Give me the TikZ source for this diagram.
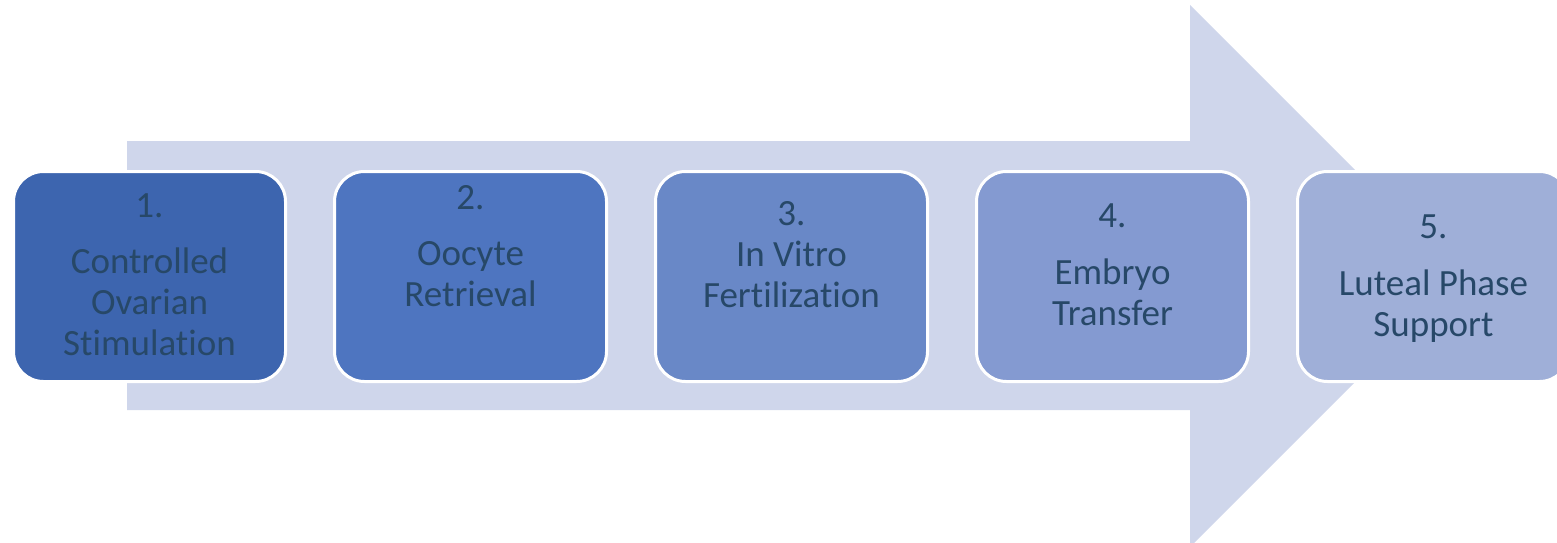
\documentclass[tikz,border=0pt]{standalone}
\usepackage{fontspec}
\setmainfont{Carlito}[Ligatures=NoCommon]
\usepackage{tikz}
\usetikzlibrary{positioning}
\definecolor{arrowfill}{RGB}{207,214,235}
\definecolor{stepA}{RGB}{61,101,175}
\definecolor{stepB}{RGB}{78,117,192}
\definecolor{stepC}{RGB}{105,136,199}
\definecolor{stepD}{RGB}{132,154,209}
\definecolor{stepE}{RGB}{159,175,216}
\definecolor{steptxt}{RGB}{39,72,104}
\tikzset{
stepbox/.style={draw=white, line width=3pt, rounded corners=30pt, minimum width=272pt, minimum height=210pt, inner sep=0pt}, % one box per step
steptext/.style={text=steptxt, align=center, font=\fontsize{37}{41}\selectfont, inner sep=0pt, anchor=base}, % anchored at last line
node distance=46pt
}

\begin{document}
\begin{tikzpicture}[x=1pt,y=-1pt]
    \useasboundingbox (0,0) rectangle (1557,543);
    \clip (0,0) rectangle (1557,543);
    % big arrow behind the steps
    \fill [arrowfill] (127,141) -- (1190,141) -- (1190,5) -- (1461,276) -- (1190,547) -- (1190,410) -- (127,410) -- cycle;
    % the steps
    \node [stepbox, fill=stepA] (s1) at (149.5,276.5) {};
    \node [stepbox, fill=stepB, right=of s1] (s2) {};
    \node [stepbox, fill=stepC, right=of s2] (s3) {};
    \node [stepbox, fill=stepD, right=of s3] (s4) {};
    \node [stepbox, fill=stepE, right=of s4] (s5) {};
    \node [steptext] (t1) at (s1 |- 0,355) {1.\\[15pt]Controlled\\Ovarian\\Stimulation};
    \node [steptext] (t2) at (s2 |- 0,306) {2.\\[15pt]Oocyte\\Retrieval};
    \node [steptext] (t3) at (s3 |- 0,307) {3.\\In Vitro\\Fertilization};
    \node [steptext] (t4) at (s4 |- 0,325) {4.\\[16pt]Embryo\\Transfer};
    \node [steptext] (t5) at (s5 |- 0,336) {5.\\[16pt]Luteal Phase\\Support};
\end{tikzpicture}
\end{document}
